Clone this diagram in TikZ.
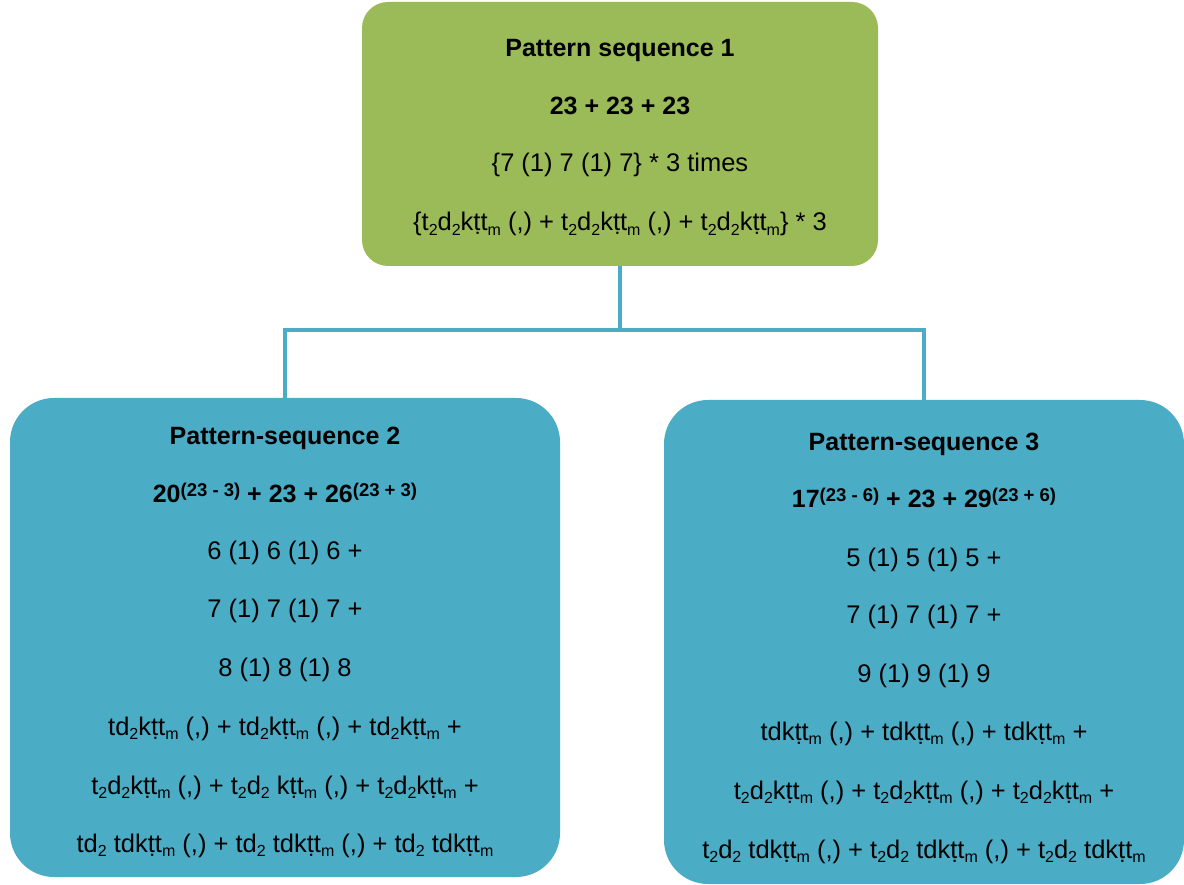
\documentclass[tikz,border=0pt]{standalone}
\usepackage{fontspec}
\setmainfont{Liberation Sans}
\definecolor{olivegreen}{HTML}{9BBB59}
\definecolor{tealblue}{HTML}{4BACC6}
\newcommand{\subx}[1]{\raisebox{-4.5pt}{\fontsize{16}{16}\selectfont #1}}
\newcommand{\supx}[1]{\raisebox{6pt}{\fontsize{18.5}{18.5}\selectfont #1}}
\newcommand{\ktm}{kṭt\subx{m}}
\begin{document}
\begin{tikzpicture}[x=1pt,y=-1pt,
  box/.style={rectangle,inner sep=0pt,outer sep=0pt},
  txt/.style={anchor=base,inner sep=0pt,font=\fontsize{25.5}{28}\selectfont},
  head/.style={txt,font=\fontsize{25}{28}\selectfont\bfseries},
  conn/.style={draw=tealblue,line width=4pt}]
\useasboundingbox (0,0) rectangle (1184,885);

% boxes
\node[box,fill=olivegreen,rounded corners=26pt,minimum width=516pt,minimum height=264pt] (top) at (620,134) {};
\node[box,fill=tealblue,rounded corners=44pt,minimum width=550pt,minimum height=479pt] (left) at (285,637.5) {};
\node[box,fill=tealblue,rounded corners=44pt,minimum width=520pt,minimum height=484pt] (right) at (924,642) {};

% connectors
\draw[conn] (top.south) -- ++(0,64) coordinate (hub);
\draw[conn] (hub) -| ([yshift=-3pt]left.north);
\draw[conn] (hub) -| ([yshift=-3pt]right.north);

% top box text
\node[head] (t1) at (620,57) {Pattern sequence 1};
\node[head] (t2) at (620,115) {23 + 23 + 23};
\node[txt] (t3) at (620,172) {\{7 (1) 7 (1) 7\} * 3 times};
\node[txt] (t4) at (620,231) {\{t\subx2d\subx2\ktm{} (,) + t\subx2d\subx2\ktm{} (,) + t\subx2d\subx2\ktm\} * 3};

% left box text
\node[head] (l1) at (285,444) {Pattern-sequence 2};
\node[head] (l2) at (285,502) {20\supx{(23 - 3)} + 23 + 26\supx{(23 + 3)}};
\node[txt] (l3) at (285,559) {6 (1) 6 (1) 6 +};
\node[txt] (l4) at (285,617) {7 (1) 7 (1) 7 +};
\node[txt] (l5) at (285,676) {8 (1) 8 (1) 8};
\node[txt] (l6) at (285,735) {td\subx2\ktm{} (,) + td\subx2\ktm{} (,) + td\subx2\ktm{} +};
\node[txt] (l7) at (285,794) {t\subx2d\subx2\ktm{} (,) + t\subx2d\subx2 \ktm{} (,) + t\subx2d\subx2\ktm{} +};
\node[txt] (l8) at (285,852) {td\subx2 td\ktm{} (,) + td\subx2 td\ktm{} (,) + td\subx2 td\ktm};

% right box text
\node[head] (r1) at (924,450) {Pattern-sequence 3};
\node[head] (r2) at (924,507) {17\supx{(23 - 6)} + 23 + 29\supx{(23 + 6)}};
\node[txt] (r3) at (924,566) {5 (1) 5 (1) 5 +};
\node[txt] (r4) at (924,623) {7 (1) 7 (1) 7 +};
\node[txt] (r5) at (924,682) {9 (1) 9 (1) 9};
\node[txt] (r6) at (924,740) {td\ktm{} (,) + td\ktm{} (,) + td\ktm{} +};
\node[txt] (r7) at (924,799) {t\subx2d\subx2\ktm{} (,) + t\subx2d\subx2\ktm{} (,) + t\subx2d\subx2\ktm{} +};
\node[txt] (r8) at (924,858) {t\subx2d\subx2 td\ktm{} (,) + t\subx2d\subx2 td\ktm{} (,) + t\subx2d\subx2 td\ktm};
\end{tikzpicture}
\end{document}
